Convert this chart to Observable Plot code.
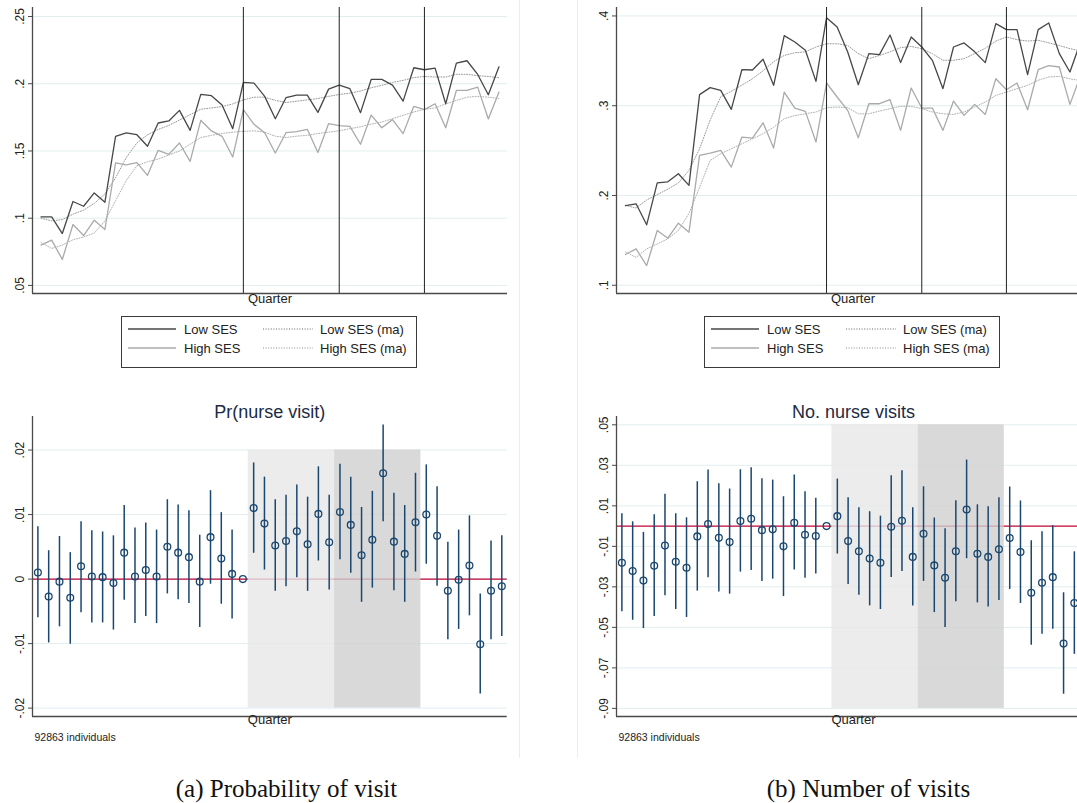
<!DOCTYPE html>
<html>
<head>
<meta charset="utf-8">
<script src="https://cdn.jsdelivr.net/npm/d3@7"></script>
<script src="https://cdn.jsdelivr.net/npm/@observablehq/plot@0.6"></script>
<style>
  html, body { margin: 0; padding: 0; background: #fff; overflow: hidden; }
  #wrap { position: relative; width: 1077px; height: 803px; overflow: hidden; background: #fff;
          font-family: "Liberation Sans", Arial, sans-serif; }
  .panel { position: absolute; }
  .panel svg { max-width: none !important; }
  .sep { position: absolute; width: 1px; background: #ededed; top: 0; height: 758px; }
  .legend { position: absolute; border: 1px solid #3a3a3a; box-sizing: border-box; background: #fff; }
  .caption { position: absolute; width: 400px; text-align: center; font-family: "Liberation Serif", "DejaVu Serif", serif;
             font-size: 25px; line-height: 28px; color: #111; }
</style>
</head>
<body>
<div id="wrap"></div>
<script>
// ---------- data ----------
const quarter = [0,1,2,3,4,5,6,7,8,9,10,11,12,13,14,15,16,17,18,19,20,21,22,23,24,25,26,27,28,29,30,31,32,33,34,35,36,37,38,39,40,41,42,43];
const eventQuarters = [19, 28, 36];
const shadeBands = [{start: 19.5, end: 27.5}, {start: 27.5, end: 35.5}];

// Top-left: probability of nurse visit by SES
const probLow = [0.101,0.101,0.0886,0.1124,0.1089,0.1188,0.1119,0.1609,0.1634,0.1621,0.1535,0.1708,0.1723,0.1802,0.1653,0.1921,0.1911,0.1842,0.1666,0.201,0.2005,0.1906,0.174,0.1896,0.1916,0.1916,0.1787,0.196,0.199,0.1963,0.1785,0.2032,0.2032,0.199,0.1871,0.2119,0.2104,0.2116,0.1851,0.2153,0.2171,0.2069,0.1918,0.2126];
const probHigh = [0.08,0.0837,0.0693,0.0953,0.0871,0.0985,0.0916,0.1411,0.1396,0.1413,0.1319,0.1505,0.1475,0.1559,0.1423,0.1728,0.1649,0.1609,0.1455,0.1807,0.1698,0.1636,0.1485,0.1636,0.1644,0.1661,0.1488,0.1703,0.1688,0.1683,0.155,0.1767,0.1673,0.1733,0.1629,0.1832,0.1807,0.1851,0.1673,0.195,0.195,0.1975,0.1738,0.1938];
const probLowMA = [0.100,0.098,0.099,0.103,0.106,0.111,0.118,0.130,0.145,0.156,0.162,0.166,0.169,0.173,0.177,0.181,0.182,0.183,0.185,0.188,0.190,0.190,0.1876,0.186,0.187,0.188,0.189,0.1906,0.192,0.193,0.1946,0.197,0.1988,0.201,0.2025,0.2045,0.2054,0.205,0.205,0.207,0.207,0.206,0.2054,0.2045];
const probHighMA = [0.082,0.0775,0.080,0.084,0.086,0.089,0.098,0.113,0.128,0.139,0.142,0.144,0.147,0.150,0.155,0.160,0.1616,0.163,0.164,0.1646,0.165,0.164,0.161,0.160,0.161,0.1616,0.163,0.164,0.165,0.1666,0.168,0.170,0.1715,0.174,0.1765,0.179,0.181,0.182,0.185,0.1876,0.19,0.1906,0.190,0.189];

// Top-right: number of nurse visits by SES
const numLow = [0.1888,0.1907,0.1673,0.2141,0.2152,0.2242,0.2112,0.3123,0.3201,0.3171,0.2959,0.3401,0.3398,0.3517,0.3227,0.3781,0.371,0.3617,0.3271,0.3981,0.3877,0.3599,0.3234,0.358,0.3569,0.3788,0.348,0.3766,0.3654,0.3506,0.319,0.3654,0.3699,0.36,0.348,0.3914,0.3848,0.3848,0.3346,0.3848,0.3922,0.358,0.3375,0.371];
const numHigh = [0.1342,0.1405,0.1219,0.161,0.1524,0.1691,0.1591,0.2446,0.2472,0.2502,0.2316,0.2651,0.2639,0.281,0.2528,0.3152,0.2974,0.2937,0.2595,0.3253,0.3097,0.2948,0.2643,0.3022,0.3022,0.3067,0.2725,0.3197,0.2974,0.2974,0.2725,0.3052,0.2892,0.3015,0.2903,0.3301,0.3178,0.3253,0.2955,0.3401,0.3446,0.3431,0.3015,0.3335];
const numLowMA = [0.189,0.186,0.195,0.201,0.207,0.214,0.228,0.252,0.284,0.31,0.316,0.323,0.330,0.339,0.349,0.356,0.359,0.360,0.3654,0.369,0.369,0.367,0.358,0.3524,0.356,0.36,0.3647,0.366,0.3636,0.358,0.3506,0.3506,0.3524,0.358,0.364,0.372,0.3766,0.3736,0.372,0.3729,0.37,0.367,0.3636,0.361];
const numHighMA = [0.137,0.131,0.1405,0.146,0.1517,0.161,0.18,0.209,0.239,0.2465,0.252,0.2576,0.2632,0.2688,0.276,0.2855,0.289,0.291,0.293,0.2978,0.2985,0.2978,0.291,0.291,0.294,0.2967,0.2993,0.2993,0.2967,0.293,0.291,0.2903,0.293,0.2985,0.304,0.3115,0.3152,0.319,0.3227,0.3283,0.332,0.3327,0.33,0.328];

// Bottom-left: Pr(nurse visit) event-study estimates and 95% CI
const probEst = [0.00103,-0.0027,-0.0004,-0.0029,0.002,0.0004,0.0003,-0.0006,0.0041,0.0004,0.0014,0.0004,0.005,0.0041,0.0034,-0.0004,0.0065,0.0032,0.0008,0,0.011,0.0086,0.0052,0.0059,0.0074,0.0054,0.0101,0.0057,0.0104,0.0084,0.0037,0.0061,0.0164,0.0058,0.0039,0.0088,0.01,0.0067,-0.0018,-0.0001,0.0021,-0.0101,-0.0018,-0.0011];
const probHi = [0.0081,0.0044,0.0066,0.0041,0.0089,0.0075,0.0073,0.0067,0.0114,0.0079,0.0087,0.0076,0.0123,0.0115,0.0106,0.0068,0.0137,0.0103,0.0076,null,0.018,0.0158,0.0123,0.013,0.0146,0.0127,0.0174,0.013,0.0178,0.0158,0.0111,0.0136,0.0239,0.0133,0.0114,0.0164,0.0177,0.0143,0.0057,0.0076,0.0098,-0.0023,0.0059,0.0067];
const probLo = [-0.006,-0.0099,-0.0074,-0.0101,-0.0052,-0.0068,-0.0068,-0.0079,-0.0033,-0.0069,-0.0058,-0.0069,-0.0023,-0.0032,-0.0038,-0.0075,-0.0008,-0.0039,-0.0062,null,0.004,0.0014,-0.0019,-0.0012,0.0002,-0.0019,0.0028,-0.0017,0.003,0.0009,-0.0036,-0.0014,0.0089,-0.0018,-0.0036,0.0011,0.0023,-0.0011,-0.0094,-0.0078,-0.0057,-0.0178,-0.0094,-0.0089];

// Bottom-right: No. nurse visits event-study estimates and 95% CI
const numEst = [-0.0181,-0.0222,-0.0269,-0.0196,-0.0096,-0.0176,-0.0206,-0.0051,0.001,-0.0058,-0.0079,0.0025,0.0036,-0.002,-0.0016,-0.01,0.0016,-0.0043,-0.0049,0,0.0049,-0.0074,-0.0124,-0.016,-0.0181,-0.0003,0.0026,-0.0152,-0.0038,-0.0194,-0.0255,-0.0124,0.0082,-0.0137,-0.0152,-0.0114,-0.0059,-0.0128,-0.0329,-0.028,-0.0252,-0.058,-0.038,null];
const numHi = [0.0061,0.0021,-0.0031,0.0056,0.0157,0.0061,0.0041,0.0219,0.0277,0.0209,0.0183,0.0278,0.0288,0.0234,0.0227,0.0145,0.0252,0.017,0.0137,null,0.0232,0.014,0.0091,0.0071,0.0049,0.0249,0.0273,0.0091,0.0194,0.004,-0.0013,0.0125,0.0326,0.0105,0.0096,0.014,0.0193,0.0124,-0.0072,-0.0028,0.0002,-0.0329,-0.0127,null];
const numLo = [-0.0423,-0.0465,-0.0506,-0.0446,-0.0344,-0.0412,-0.0451,-0.0321,-0.0255,-0.0325,-0.0336,-0.0227,-0.0219,-0.0273,-0.0262,-0.0348,-0.0217,-0.0257,-0.0237,null,-0.0138,-0.0288,-0.0341,-0.0394,-0.0412,-0.0254,-0.0224,-0.0395,-0.0273,-0.0427,-0.0501,-0.0374,-0.0161,-0.0379,-0.0399,-0.0367,-0.0313,-0.0382,-0.0588,-0.0534,-0.0509,-0.083,-0.0633,null];

// Tick values
const probTicksTop = [0.05, 0.1, 0.15, 0.2, 0.25];
const numTicksTop = [0.1, 0.2, 0.3, 0.4];
const probTicksBottom = [-0.02, -0.01, 0, 0.01, 0.02];
const numTicksBottom = [-0.09, -0.07, -0.05, -0.03, -0.01, 0.01, 0.03, 0.05];

const seriesNames = ["Low SES", "High SES", "Low SES (ma)", "High SES (ma)"];
const panelTitles = ["Pr(nurse visit)", "No. nurse visits"];
const captions = ["(a) Probability of visit", "(b) Number of visits"];
const xLabel = "Quarter";
const note = "92863 individuals";

// ---------- styling ----------
const FONT = "'Liberation Sans', Arial, sans-serif";
const C = {
  low: "#474747", high: "#aaaaaa", lowMA: "#9a9a9a", highMA: "#b0b0b0",
  grid: "#e3edef", axis: "#4a4a4a", event: "#222222",
  ci: "#1a476f", zero: "#c10534", text: "#222222", title: "#1c2b45"
};
const shadeFills = ["#e7e7e7", "#cfcfcf"];
const fmt = d => d === 0 ? "0" : String(+d.toFixed(4)).replace(/^(-?)0\./, "$1.");

function series(values) { return quarter.map((q, i) => ({q, v: values[i]})); }

function topPanel({low, high, lowMA, highMA, ticks, yDomain, xDomain, width, marginLeft, marginRight}) {
  return Plot.plot({
    width, height: 311, marginLeft, marginRight, marginTop: 7, marginBottom: 18,
    x: {domain: xDomain, axis: null},
    y: {domain: yDomain, axis: null},
    style: {fontFamily: FONT, background: "transparent", overflow: "visible", color: C.text},
    marks: [
      Plot.gridY(ticks, {stroke: C.grid, strokeOpacity: 1, strokeWidth: 1}),
      Plot.line(series(lowMA), {x: "q", y: "v", stroke: C.lowMA, strokeWidth: 1, strokeDasharray: "1,1.6"}),
      Plot.line(series(highMA), {x: "q", y: "v", stroke: C.highMA, strokeWidth: 1, strokeDasharray: "1,1.6"}),
      Plot.line(series(high), {x: "q", y: "v", stroke: C.high, strokeWidth: 1.3}),
      Plot.line(series(low), {x: "q", y: "v", stroke: C.low, strokeWidth: 1.3}),
      Plot.ruleX(eventQuarters, {stroke: C.event, strokeWidth: 1}),
      Plot.ruleX([xDomain[0]], {stroke: C.axis, strokeWidth: 1.3}),
      Plot.ruleY([yDomain[0]], {stroke: C.axis, strokeWidth: 1.3}),
      Plot.axisY(ticks, {tickFormat: fmt, tickRotate: -90, tickSize: 4, tickPadding: 5, fontSize: 12,
                         stroke: C.axis, fill: C.text, label: null}),
      Plot.text([xLabel], {text: d => d, frameAnchor: "bottom", dy: 9, fontSize: 13, fill: C.text})
    ]
  });
}

function bottomPanel({est, lo, hi, ticks, title, yDomain, xDomain, width, marginLeft, marginRight}) {
  const rows = quarter.map((q, i) => ({q, est: est[i], lo: lo[i], hi: hi[i]}));
  const tmin = d3.min(ticks), tmax = d3.max(ticks);
  return Plot.plot({
    width, height: 376, marginLeft, marginRight, marginTop: 36, marginBottom: 40,
    x: {domain: xDomain, axis: null},
    y: {domain: yDomain, axis: null},
    style: {fontFamily: FONT, background: "transparent", overflow: "visible", color: C.text},
    marks: [
      Plot.gridY(ticks, {stroke: C.grid, strokeOpacity: 1, strokeWidth: 1}),
      Plot.ruleY([0], {stroke: C.zero, strokeWidth: 1.4}),
      Plot.rect(shadeBands, {x1: "start", x2: "end", y1: tmin, y2: tmax, fill: (d, i) => shadeFills[i], fillOpacity: 0.8}),
      Plot.ruleX(rows.filter(d => d.lo != null), {x: "q", y1: "lo", y2: "hi", stroke: C.ci, strokeWidth: 1.5}),
      Plot.dot(rows.filter(d => d.est != null), {x: "q", y: "est", r: 3.4, stroke: C.ci, strokeWidth: 1.3, fill: "none"}),
      Plot.ruleX([xDomain[0]], {stroke: C.axis, strokeWidth: 1.3}),
      Plot.ruleY([yDomain[0]], {stroke: C.axis, strokeWidth: 1.3}),
      Plot.axisY(ticks, {tickFormat: fmt, tickRotate: -90, tickSize: 4, tickPadding: 5, fontSize: 12,
                         stroke: C.axis, fill: C.text, label: null}),
      Plot.text([title], {text: d => d, frameAnchor: "top", dy: -11, fontSize: 18, fill: C.title}),
      Plot.text([xLabel], {text: d => d, frameAnchor: "bottom", dy: 7.5, fontSize: 13, fill: C.text}),
      Plot.text([note], {text: d => d, frameAnchor: "bottom-left", dx: 2, dy: 24, textAnchor: "start", fontSize: 10.5, fill: C.text})
    ]
  });
}

const wrap = document.getElementById("wrap");
function place(el, left, top, width) {
  const d = document.createElement("div");
  d.className = "panel";
  d.style.left = left + "px";
  d.style.top = top + "px";
  d.style.width = width + "px";
  el.style.maxWidth = "none";
  d.appendChild(el);
  wrap.appendChild(d);
}

// separators of the original graph regions
[519, 577].forEach(x => { const s = document.createElement("div"); s.className = "sep"; s.style.left = x + "px"; wrap.appendChild(s); });

place(topPanel({low: probLow, high: probHigh, lowMA: probLowMA, highMA: probHighMA, ticks: probTicksTop,
  yDomain: [0.044, 0.2567], xDomain: [-0.8, 43.8], width: 520, marginLeft: 32, marginRight: 13}), 0, 0, 520);
place(topPanel({low: numLow, high: numHigh, lowMA: numLowMA, highMA: numHighMA, ticks: numTicksTop,
  yDomain: [0.0908, 0.4094], xDomain: [-0.85, 43.85], width: 520, marginLeft: 36, marginRight: 11}), 580, 0, 520);
place(bottomPanel({est: probEst, lo: probLo, hi: probHi, ticks: probTicksBottom, title: panelTitles[0],
  yDomain: [-0.0213, 0.0252], xDomain: [-0.5, 43.5], width: 520, marginLeft: 32, marginRight: 13.3}), 0, 380, 520);
place(bottomPanel({est: numEst, lo: numLo, hi: numHi, ticks: numTicksBottom, title: panelTitles[1],
  yDomain: [-0.094, 0.0541], xDomain: [-0.5, 43.5], width: 520, marginLeft: 36, marginRight: 10}), 580, 380, 520);

// legends
function legend(left, top) {
  const el = document.createElement("div");
  el.className = "legend";
  el.style.left = left + "px"; el.style.top = top + "px";
  el.style.width = "296px"; el.style.height = "52px";
  const rows = [
    {y: 12, name: seriesNames[0], stroke: C.low, dash: null, col: 0},
    {y: 31, name: seriesNames[1], stroke: C.high, dash: null, col: 0},
    {y: 12, name: seriesNames[2], stroke: C.lowMA, dash: "1,1.6", col: 1},
    {y: 31, name: seriesNames[3], stroke: C.highMA, dash: "1,1.6", col: 1}
  ];
  const cols = [{x1: 6, x2: 54, tx: 62}, {x1: 141, x2: 191, tx: 198}];
  let svg = `<svg width="294" height="50" style="position:absolute;left:0;top:0;font-family:${FONT}">`;
  rows.forEach(r => {
    const c = cols[r.col];
    svg += `<line x1="${c.x1}" x2="${c.x2}" y1="${r.y}" y2="${r.y}" stroke="${r.stroke}" stroke-width="1.3" ${r.dash ? `stroke-dasharray="${r.dash}"` : ""}/>`;
    svg += `<text x="${c.tx}" y="${r.y}" dy="0.35em" font-size="13" fill="${C.text}">${r.name}</text>`;
  });
  svg += `</svg>`;
  el.innerHTML = svg;
  wrap.appendChild(el);
}
legend(121, 316);
legend(704, 316);

// captions
captions.forEach((t, i) => {
  const d = document.createElement("div");
  d.className = "caption";
  d.textContent = t;
  d.style.left = (i === 0 ? 86.5 : 668.5) + "px";
  d.style.top = "775px";
  wrap.appendChild(d);
});
</script>
</body>
</html>
